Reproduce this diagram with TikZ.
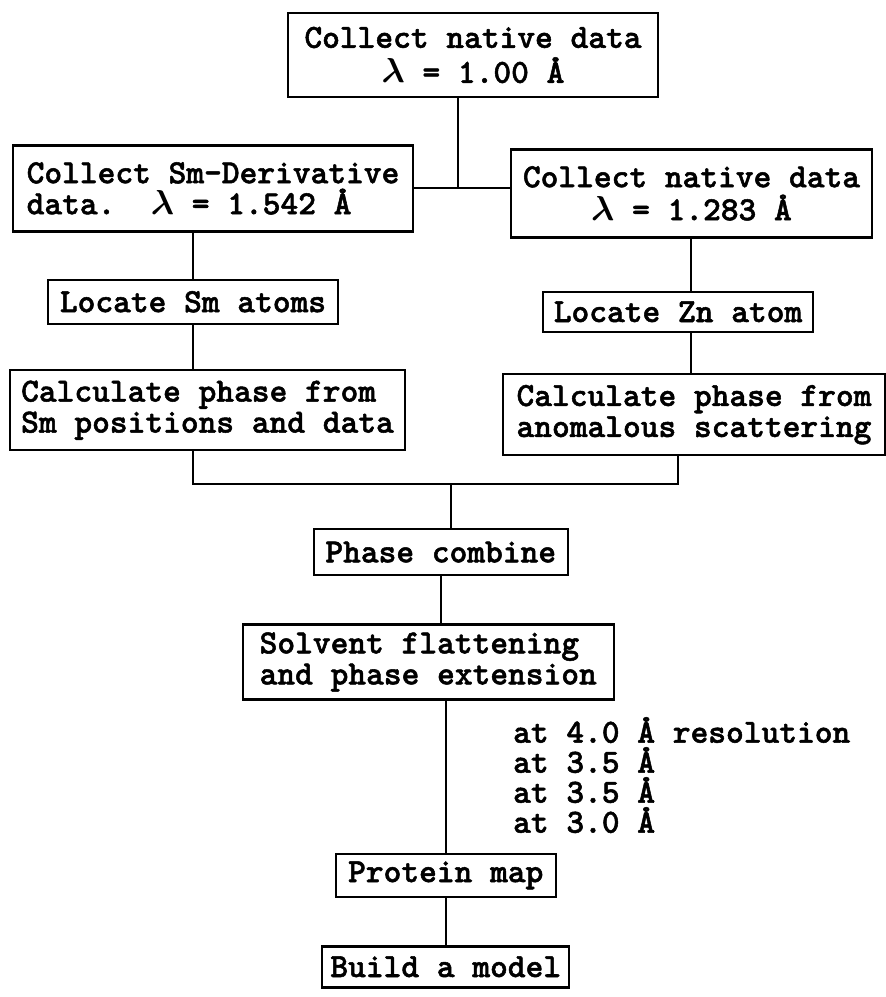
\documentclass[tikz,border=0pt]{standalone}
\usepackage{fontspec}
\usepackage{tikz}
\usetikzlibrary{positioning,calc}
\newfontfamily\typewr{lmmonolt10-bold.otf}[FakeBold=1.5]
\newcommand{\ttlabel}{\typewr\fontsize{16.9}{15.5}\selectfont\boldmath}
\tikzset{
  stepbox/.style={draw,line width=1.2pt,inner xsep=4pt,inner ysep=2pt,align=center,font=\ttlabel},
  stepleft/.style={stepbox,align=left},
  link/.style={line width=1pt},
  note/.style={inner sep=0pt,align=left,font=\ttlabel\fontsize{16.9}{15}\selectfont},
}
\begin{document}
\begin{tikzpicture}
\useasboundingbox (-236.5pt,27.5pt) rectangle (206pt,-471pt);
% data collection
\node[stepbox,minimum width=185pt,minimum height=42pt] (nat1) {Collect native data\\[2pt]$\lambda$ = 1.00 Å};
\node[stepleft,below=23pt of nat1,xshift=-130pt,minimum width=200pt,minimum height=43pt] (smder) {Collect Sm-Derivative\\data.\ \ $\lambda$ = 1.542 Å};
\node[stepbox,below=25pt of nat1,xshift=109.25pt,minimum width=180.5pt,minimum height=44pt] (nat2) {Collect native data\\[1pt]$\lambda$ = 1.283 Å};
% heavy atoms
\node[stepbox,below=23pt of smder,xshift=-10pt,minimum width=145pt,minimum height=22pt] (locsm) {Locate Sm atoms};
\node[stepbox,below=26pt of nat2,xshift=-6.75pt,minimum width=135pt,minimum height=20pt] (loczn) {Locate Zn atom};
\node[stepleft,below=22pt of locsm,xshift=7.25pt,minimum width=197.5pt,minimum height=40pt] (calcsm) {Calculate phase from\\Sm positions and data};
\node[stepleft,below=20pt of loczn,xshift=8pt,minimum width=191pt,minimum height=40.5pt] (calczn) {Calculate phase from\\anomalous scattering};
\path ($(calcsm.south)!.5!(calczn.south)$) ++(0,-15pt) coordinate (jn);
% phasing and map
\node[stepbox,below=22pt of jn,xshift=-5pt,minimum width=127pt,minimum height=23pt] (combine) {Phase combine};
\node[stepleft,below=23.5pt of combine,xshift=-6.25pt,minimum width=185.5pt,minimum height=37.5pt] (solvent) {Solvent flattening\\and phase extension};
\node[stepbox,below=76pt of solvent,xshift=8.75pt,minimum width=110pt,minimum height=21.5pt] (protein) {Protein map};
\node[stepbox,below=23.5pt of protein,minimum width=123.5pt,minimum height=20.5pt] (model) {Build a model};
\node[note,below=8pt of solvent.south,anchor=north west,xshift=42.25pt] (res) {at 4.0 Å resolution\\at 3.5 Å\\at 3.5 Å\\at 3.0 Å};
\draw[link] ([xshift=-7.5pt]nat1.south) -- ([xshift=-7.5pt]nat1.south |- smder.east);
\draw[link] (smder.east) -- (smder.east -| nat2.west);
\draw[link] (locsm.north) -- (locsm.north |- smder.south);
\draw[link] (nat2.south) -- (nat2.south |- loczn.north);
\draw[link] (locsm.south) -- (locsm.south |- calcsm.north);
\draw[link] (nat2.south |- loczn.south) -- (nat2.south |- calczn.north);
\draw[link] (locsm.south |- calcsm.south) -- (locsm.south |- jn) -- (loczn.south |- jn) -- (loczn.south |- calczn.south);
\draw[link] (jn) -- (jn |- combine.north);
\draw[link] (combine.south) -- (combine.south |- solvent.north);
\draw[link] (protein.north |- solvent.south) -- (protein.north);
\draw[link] (protein.south) -- (protein.south |- model.north);
\end{tikzpicture}
\end{document}
